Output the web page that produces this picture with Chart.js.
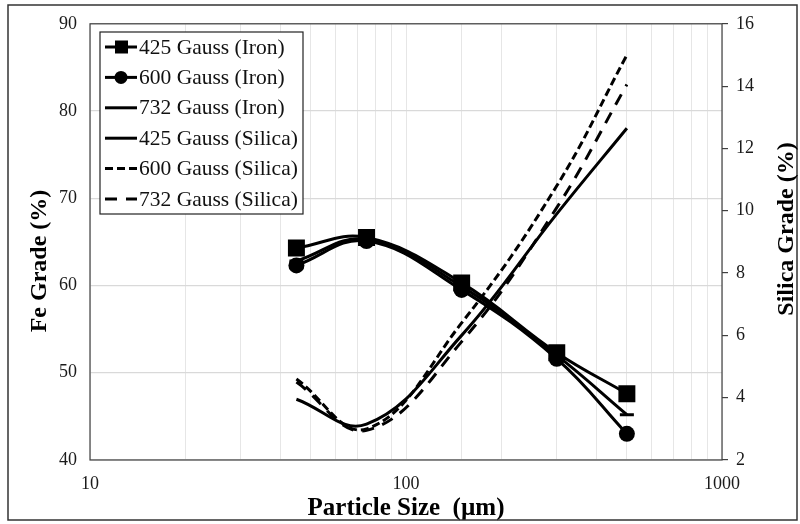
<!DOCTYPE html>
<html>
<head>
<meta charset="utf-8">
<script src="https://cdn.jsdelivr.net/npm/chart.js@4"></script>
<style>
  html, body { margin: 0; padding: 0; background: #fff; }
  #wrap { width: 800px; height: 524px; position: relative; }
</style>
</head>
<body>
<div id="wrap"><canvas id="chart" width="800" height="524"></canvas></div>
<script>
// Particle sizes (um)
const sizes = [45, 75, 150, 300, 500];

// Fe grade (%) - left axis
const iron425 = [64.3, 65.5, 60.3, 52.3, 47.6];
const iron600 = [62.3, 65.1, 59.5, 51.6, 43.0];
const iron732 = [62.8, 65.3, 59.9, 52.0, 45.2];

// Silica grade (%) - right axis
const silica425 = [3.95, 3.15, 6.0, 9.9, 12.65];
const silica600 = [4.6, 3.0, 6.4, 10.8, 15.0];
const silica732 = [4.5, 2.95, 5.8, 10.1, 14.05];

const xTickLabels = [10, 100, 1000];
const yTitleLeft = "Fe Grade (%)";
const yTitleRight = "Silica Grade (%)";
const serif = "'Liberation Serif', 'Times New Roman', serif";

function pts(vals) {
  return sizes.map((s, i) => ({x: s, y: vals[i]}));
}

// frames, rotated axis titles and the legend box inside the plot
const framePlugin = {
  id: "frame",
  afterDraw(chart) {
    const ctx = chart.ctx;
    const a = chart.chartArea;
    ctx.save();
    ctx.strokeStyle = "#333";
    ctx.lineWidth = 1.5;
    ctx.strokeRect(8, 5, 789, 515);
    ctx.lineWidth = 1.2;
    ctx.strokeStyle = "#404040";
    ctx.strokeRect(a.left, a.top, a.right - a.left, a.bottom - a.top);

    // y titles, both reading bottom to top
    ctx.fillStyle = "#000";
    ctx.font = "bold 24px " + serif;
    ctx.textAlign = "center";
    ctx.textBaseline = "middle";
    [[40, 261, yTitleLeft], [787, 229, yTitleRight]].forEach(([x, y, t]) => {
      ctx.save();
      ctx.translate(x, y);
      ctx.rotate(-Math.PI / 2);
      ctx.fillText(t, 0, 0);
      ctx.restore();
    });

    // legend
    const lx = 100, ly = 32, lw = 203, lh = 182;
    ctx.fillStyle = "#fff";
    ctx.fillRect(lx, ly, lw, lh);
    ctx.strokeStyle = "#222";
    ctx.lineWidth = 1.2;
    ctx.strokeRect(lx, ly, lw, lh);
    ctx.font = "21.5px " + serif;
    ctx.textAlign = "left";
    chart.data.datasets.forEach((ds, i) => {
      const y = 47 + i * 30.4;
      ctx.strokeStyle = "#000";
      ctx.fillStyle = "#000";
      ctx.lineWidth = 3;
      ctx.setLineDash(ds.borderDash || []);
      ctx.beginPath();
      ctx.moveTo(105, y);
      ctx.lineTo(137, y);
      ctx.stroke();
      ctx.setLineDash([]);
      if (ds.pointStyle === "rect") {
        ctx.fillRect(115, y - 6.5, 13, 13);
      } else if (ds.pointStyle === "circle" && ds.pointRadius > 0) {
        ctx.beginPath();
        ctx.arc(121, y, 6.5, 0, Math.PI * 2);
        ctx.fill();
      }
      ctx.fillStyle = "#111";
      ctx.fillText(ds.label, 139, y + 1);
    });
    ctx.restore();
  }
};

const base = {
  borderColor: "#000",
  backgroundColor: "#000",
  borderWidth: 3,
  tension: 0.4,
  fill: false
};

new Chart(document.getElementById("chart"), {
  type: "line",
  data: {
    datasets: [
      {...base, label: "425 Gauss (Iron)", data: pts(iron425), yAxisID: "y", pointStyle: "rect", pointRadius: 12, pointBorderWidth: 0},
      {...base, label: "600 Gauss (Iron)", data: pts(iron600), yAxisID: "y", pointStyle: "circle", pointRadius: 8, pointBorderWidth: 0},
      {...base, label: "732 Gauss (Iron)", data: pts(iron732), yAxisID: "y", pointStyle: "line", pointRadius: 7, pointBorderWidth: 3},
      {...base, label: "425 Gauss (Silica)", data: pts(silica425), yAxisID: "y2", pointRadius: 0},
      {...base, label: "600 Gauss (Silica)", data: pts(silica600), yAxisID: "y2", pointRadius: 0, borderDash: [8, 4]},
      {...base, label: "732 Gauss (Silica)", data: pts(silica732), yAxisID: "y2", pointRadius: 0, borderDash: [12, 9]}
    ]
  },
  options: {
    responsive: false,
    animation: false,
    layout: {padding: {top: 22, left: 0, right: 0, bottom: 0}},
    plugins: {legend: {display: false}, tooltip: {enabled: false}},
    scales: {
      x: {
        type: "logarithmic",
        min: 10,
        max: 1000,
        afterFit: s => { s.height = 64; },
        grid: {color: "#e6e6e6", lineWidth: 1, drawTicks: false},
        border: {display: false},
        ticks: {
          color: "#1a1a1a",
          font: {family: serif, size: 18},
          padding: 13,
          autoSkip: false,
          maxRotation: 0,
          callback: v => xTickLabels.includes(v) ? String(v) : ""
        },
        title: {display: true, text: "Particle Size  (µm)", color: "#000",
          font: {family: serif, size: 25, weight: "bold"}, padding: {top: 0, bottom: 0}}
      },
      y: {
        position: "left",
        min: 40,
        max: 90,
        afterFit: s => { s.width = 90; },
        grid: {color: "#d9d9d9", lineWidth: 1.2, drawTicks: false},
        border: {display: false},
        ticks: {stepSize: 10, color: "#1a1a1a", font: {family: serif, size: 18}, padding: 13}
      },
      y2: {
        position: "right",
        min: 2,
        max: 16,
        afterFit: s => { s.width = 78; },
        grid: {drawOnChartArea: false, drawTicks: true, tickLength: 6, color: "#404040", lineWidth: 1.2},
        border: {display: false},
        ticks: {stepSize: 2, color: "#1a1a1a", font: {family: serif, size: 18}, padding: 8}
      }
    }
  },
  plugins: [framePlugin]
});
</script>
</body>
</html>
